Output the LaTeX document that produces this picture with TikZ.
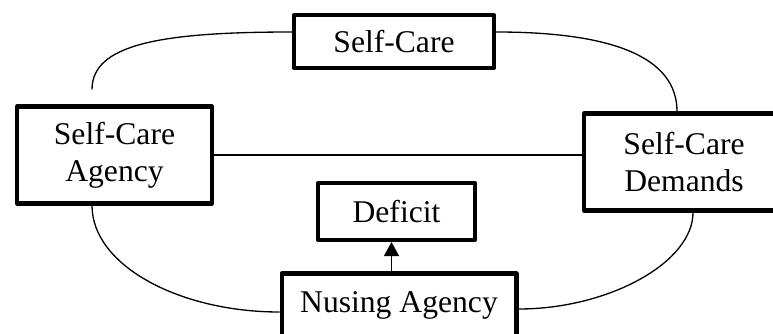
\documentclass[tikz,border=0pt]{standalone}
\usepackage{fontspec}
\setmainfont{Liberation Serif}
\usetikzlibrary{arrows.meta,calc}

\begin{document}
\begin{tikzpicture}[x=0.02cm, y=-0.02cm,
    box/.style={draw, line width=2.3pt, line join=round, align=center, inner sep=2pt, font=\fontsize{18}{21}\selectfont},
    link/.style={line width=0.75pt},
    arr/.style={line width=0.75pt, -{Triangle[width=0.3cm,length=0.28cm]}}
  ]
  \useasboundingbox (0,0) rectangle (773,334);
  \clip (0,0) rectangle (773,334);

  % Concept boxes
  \node[box, minimum width=4.0cm, minimum height=1.06cm] (selfcare) at (394,41.5) {Self-Care};
  \node[box, minimum width=3.9cm, minimum height=1.94cm] (agency) at (114.5,155) {Self-Care\\Agency};
  \node[box, minimum width=4.0cm, minimum height=1.94cm] (demands) at (684,162) {Self-Care\\Demands};
  \node[box, minimum width=3.14cm, minimum height=1.14cm] (deficit) at (396.5,211.5) {Deficit};
  \node[box, minimum width=4.7cm, minimum height=1.26cm] (nursing) at (399,305) {Nusing Agency};

  % Connectors
  \coordinate (tl) at ([shift={(-0.45cm,0.3cm)}]agency.north);
  \draw[link] ([yshift=0.19cm]selfcare.west) .. controls +(-132,0) and +(0,-45) .. (tl);
  \draw[link] ([yshift=0.19cm]selfcare.east) .. controls +(115,0) and +(0,-55) .. ([xshift=-0.14cm]demands.north);
  \draw[link] (agency.east) -- (agency.east -| demands.west);
  \draw[link] ([xshift=-0.45cm]agency.south) .. controls +(0,60) and +(-100,0) .. ([yshift=-0.14cm]nursing.west);
  \draw[link] ([xshift=0.18cm]demands.south) .. controls +(0,50) and +(90,0) .. ([yshift=-0.08cm]nursing.east);

  \coordinate (ar) at ([xshift=-0.1cm]deficit.south);
  \draw[arr] (ar |- nursing.north) -- (ar);
\end{tikzpicture}
\end{document}
